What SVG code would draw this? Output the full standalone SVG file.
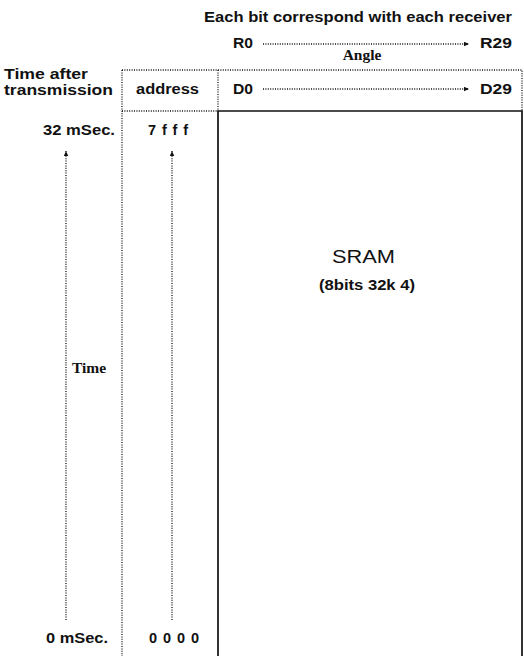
<svg xmlns="http://www.w3.org/2000/svg" width="524" height="656" viewBox="0 0 524 656">
<defs>
<style>
.lab{font-family:"Liberation Sans",Arial,sans-serif;font-weight:bold;font-size:14.5px;fill:#111}
.ser{font-family:"Liberation Serif","Times New Roman",serif;font-weight:bold;font-size:15.5px;fill:#111}
.dot{stroke:#111;stroke-width:1.3;stroke-dasharray:1 1.4;fill:none}
.solid{stroke:#111;stroke-width:1.7;fill:none}
</style>
<marker id="ah" viewBox="0 0 10 10" refX="10" refY="5" markerWidth="8" markerHeight="5" markerUnits="userSpaceOnUse" orient="auto">
<path d="M0,0.5 L10,5 L0,9.5 z" fill="#111"/>
</marker>
</defs>
<rect width="524" height="656" fill="#fff"/>
<g id="title"><text class="lab" x="204" y="22" textLength="308" lengthAdjust="spacingAndGlyphs">Each bit correspond with each receiver</text></g>
<g id="receivers">
<text class="lab" x="233" y="48" textLength="20" lengthAdjust="spacingAndGlyphs">R0</text>
<text class="lab" x="480" y="48" textLength="32" lengthAdjust="spacingAndGlyphs">R29</text>
<text class="ser" x="362" y="60" text-anchor="middle">Angle</text>
</g>
<g id="header-frame">
<path class="dot" d="M122,70 H522 V111"/>
<path class="dot" d="M218,70 V111"/>
<path class="dot" d="M122,111 H218"/>
<path class="dot" d="M122,70 V656"/>
</g>
<g id="time-label">
<text class="lab" x="4" y="79" textLength="84" lengthAdjust="spacingAndGlyphs" style="font-size:14px">Time after</text>
<text class="lab" x="4" y="95" textLength="109" lengthAdjust="spacingAndGlyphs" style="font-size:14px">transmission</text>
</g>
<g id="address-header"><text class="lab" x="136" y="94" textLength="63" lengthAdjust="spacingAndGlyphs">address</text></g>
<g id="data-header">
<text class="lab" x="233" y="94" textLength="20" lengthAdjust="spacingAndGlyphs">D0</text>
<text class="lab" x="480" y="94" textLength="32" lengthAdjust="spacingAndGlyphs">D29</text>
</g>
<g id="sram">
<path class="solid" d="M218,656 V111 H522 V656"/>
<text x="332" y="263" textLength="63" lengthAdjust="spacingAndGlyphs" font-family="Liberation Sans, Arial, sans-serif" font-size="19" fill="#111">SRAM</text>
<text class="lab" x="319" y="290" textLength="96" lengthAdjust="spacingAndGlyphs">(8bits 32k 4)</text>
</g>
<g id="time-axis">
<text class="lab" x="43" y="135" textLength="72" lengthAdjust="spacingAndGlyphs">32 mSec.</text>
<text class="lab" x="46" y="643" textLength="62" lengthAdjust="spacingAndGlyphs">0 mSec.</text>
<text class="ser" x="72" y="373">Time</text>
</g>
<g id="address-axis">
<text class="lab" x="148" y="135" textLength="40" lengthAdjust="spacing">7fff</text>
<text class="lab" x="149" y="643" textLength="50" lengthAdjust="spacing">0000</text>
</g>
<g id="connectors">
<line class="dot" x1="263" y1="44" x2="469" y2="44" marker-end="url(#ah)"/>
<line class="dot" x1="263" y1="89" x2="469" y2="89" marker-end="url(#ah)"/>
<line class="dot" x1="66" y1="620" x2="66" y2="151" marker-end="url(#ah)"/>
<line class="dot" x1="172" y1="620" x2="172" y2="151" marker-end="url(#ah)"/>
</g>
</svg>
